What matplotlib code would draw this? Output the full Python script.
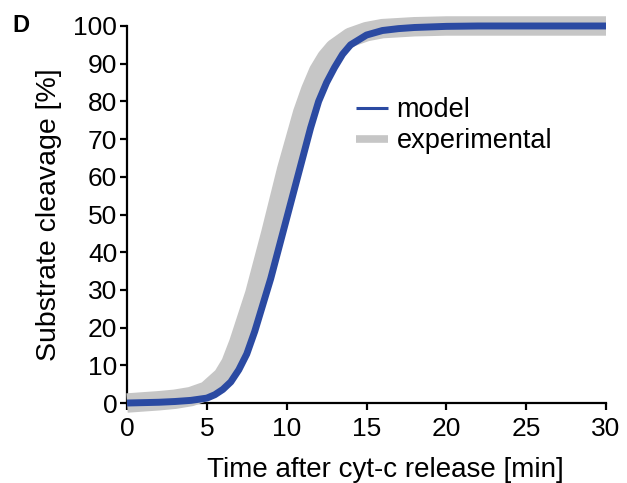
import matplotlib.pyplot as plt
import numpy as np

plt.rcParams['font.family'] = ['Liberation Sans', 'DejaVu Sans']

# model curve (blue)
model_time = [0, 1, 2, 3, 4, 5, 5.5, 6, 6.5, 7, 7.5, 8, 8.5, 9, 9.5, 10, 10.5, 11,
              11.5, 12, 12.5, 13, 13.5, 14, 15, 16, 17, 18, 20, 22, 25, 30]
model_cleavage = [0, 0.1, 0.2, 0.4, 0.7, 1.3, 2.2, 3.6, 5.6, 8.8, 13, 19, 26, 33, 41,
                  49, 57, 65, 73, 80, 85, 89, 92.5, 95, 97.6, 98.8, 99.3, 99.6, 99.9, 100, 100, 100]

# experimental curve (grey band)
exp_time = [0, 1, 2, 3, 4, 5, 6, 6.5, 7, 8, 9, 10, 11, 11.5, 12, 12.5, 13, 14, 15, 16, 18, 20, 25, 30]
exp_cleavage = [0, 0.3, 0.6, 1.0, 1.7, 3.2, 7, 10.5, 16, 29, 45, 62, 77, 83, 88, 91.5, 94, 97,
                98.5, 99.3, 99.8, 100, 100, 100]

fig = plt.figure(figsize=(6.27, 4.83), dpi=100)
ax = fig.add_axes([0.2026, 0.1656, 0.7639, 0.7806])

ax.plot(exp_time, exp_cleavage, color='#c6c6c6', lw=14, solid_capstyle='butt',
        solid_joinstyle='round', label='experimental', zorder=3, clip_on=False)
ax.plot(model_time, model_cleavage, color='#2b4aa2', lw=5, solid_capstyle='butt',
        solid_joinstyle='round', label='model', zorder=4, clip_on=False)

ax.set_xlim(0, 30)
ax.set_ylim(0, 100)
ax.set_xticks(np.arange(0, 31, 5))
ax.set_yticks(np.arange(0, 101, 10))
for side in ['top', 'right']:
    ax.spines[side].set_visible(False)
for side in ['left', 'bottom']:
    ax.spines[side].set_linewidth(1.6)
    ax.spines[side].set_zorder(2)
ax.tick_params(direction='out', length=5, width=1.6, labelsize=19)
ax.tick_params(axis='x', pad=5)
ax.tick_params(axis='y', pad=2)

ax.set_xlabel('Time after cyt-c release [min]', fontsize=20)
ax.xaxis.set_label_coords(0.539, -0.143)
ax.set_ylabel('Substrate cleavage [%]', fontsize=20.5, labelpad=8)

handles, labels = ax.get_legend_handles_labels()
leg = ax.legend(handles[::-1], labels[::-1], loc='upper left', bbox_to_anchor=(0.428, 0.875),
                frameon=False, fontsize=19.5, handlelength=1.15, handletextpad=0.33,
                labelspacing=0.17)
leg.get_lines()[0].set_linewidth(2.2)
leg.get_lines()[1].set_linewidth(5.5)

fig.text(0.02, 0.948, 'D', fontsize=17, fontweight='bold', va='center')

fig.savefig('out.png', dpi=100)
